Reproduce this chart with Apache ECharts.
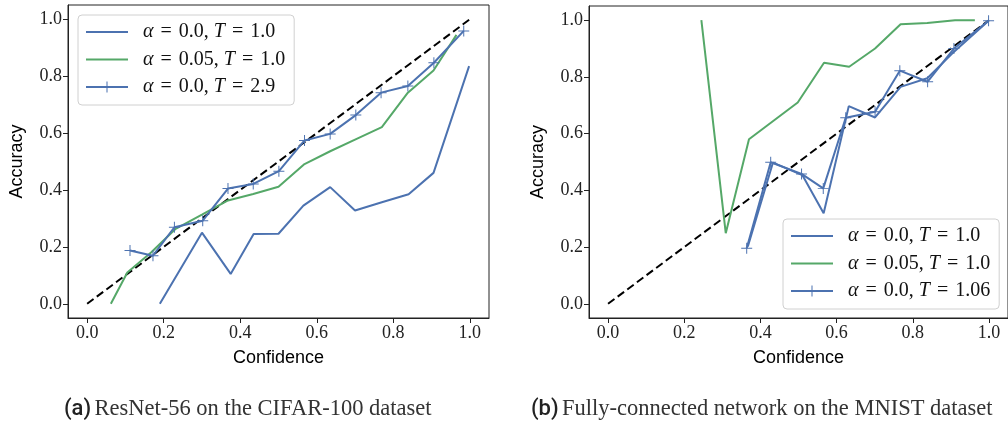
<!DOCTYPE html>
<html>
<head>
<meta charset="utf-8">
<script src="https://cdn.jsdelivr.net/npm/echarts@6/dist/echarts.min.js"></script>
<style>html,body{margin:0;padding:0;background:#fff}#c{width:1008px;height:423px}</style>
</head>
<body>
<div id="c"></div>
<script>
// ---- data ----
const tickValues = [0.0, 0.2, 0.4, 0.6, 0.8, 1.0];
const seriesNames = ['a0T1', 'a005T1', 'a0Tcal'];
const leftLegendLabels = ['{m|α}{e|=}0.0, {m|T}{e|=}1.0', '{m|α}{e|=}0.05, {m|T}{e|=}1.0', '{m|α}{e|=}0.0, {m|T}{e|=}2.9'];
const rightLegendLabels = ['{m|α}{e|=}0.0, {m|T}{e|=}1.0', '{m|α}{e|=}0.05, {m|T}{e|=}1.0', '{m|α}{e|=}0.0, {m|T}{e|=}1.06'];
const diagX = [0, 1];
const diagY = [0, 1];

const leftBlueX = [0.19, 0.30, 0.375, 0.435, 0.50, 0.565, 0.635, 0.70, 0.77, 0.84, 0.905, 0.998];
const leftBlueY = [0.0, 0.25, 0.105, 0.245, 0.246, 0.345, 0.41, 0.328, 0.357, 0.385, 0.46, 0.835];
const leftGreenX = [0.062, 0.105, 0.167, 0.23, 0.30, 0.368, 0.434, 0.50, 0.568, 0.635, 0.70, 0.77, 0.838, 0.905, 0.965];
const leftGreenY = [0.0, 0.11, 0.18, 0.262, 0.313, 0.363, 0.386, 0.411, 0.491, 0.536, 0.577, 0.621, 0.742, 0.82, 0.945];
const leftMarkX = [0.112, 0.172, 0.228, 0.302, 0.368, 0.434, 0.501, 0.568, 0.635, 0.702, 0.768, 0.838, 0.906, 0.984];
const leftMarkY = [0.187, 0.169, 0.269, 0.292, 0.405, 0.421, 0.466, 0.574, 0.597, 0.663, 0.742, 0.765, 0.847, 0.959];

const rightBlueX = [0.367, 0.433, 0.51, 0.566, 0.632, 0.701, 0.768, 0.838, 0.904, 0.999];
const rightBlueY = [0.202, 0.498, 0.454, 0.319, 0.697, 0.657, 0.765, 0.795, 0.883, 0.998];
const rightGreenX = [0.245, 0.309, 0.37, 0.498, 0.567, 0.633, 0.701, 0.768, 0.838, 0.911, 0.963];
const rightGreenY = [1.0, 0.249, 0.58, 0.71, 0.85, 0.836, 0.9, 0.986, 0.99, 1.0, 1.0];
const rightMarkX = [0.364, 0.427, 0.508, 0.565, 0.624, 0.701, 0.766, 0.839, 0.908, 0.999];
const rightMarkY = [0.196, 0.499, 0.458, 0.407, 0.656, 0.677, 0.822, 0.783, 0.9, 0.998];

const captionA = ['(a)', 'ResNet-56 on the CIFAR-100 dataset'];
const captionB = ['(b)', 'Fully-connected network on the MNIST dataset'];

// ---- styling ----
const BLUE = '#4C72B0', GREEN = '#55A868';
const SERIF = '"Liberation Serif", "DejaVu Serif", serif';
const SANS = '"Liberation Sans", Arial, sans-serif';
const PLUS = 'path://M-0.9,-10 L0.9,-10 L0.9,-0.9 L10,-0.9 L10,0.9 L0.9,0.9 L0.9,10 L-0.9,10 L-0.9,0.9 L-10,0.9 L-10,-0.9 L-0.9,-0.9 Z';

const zip = (xs, ys) => xs.map((x, i) => [x, ys[i]]);

function xAxis(gi) {
  return {
    type: 'value', gridIndex: gi, min: -0.05, max: 1.05,
    name: 'Confidence', nameLocation: 'middle', nameGap: 31,
    nameTextStyle: { fontFamily: SANS, fontSize: 18, color: '#000' },
    axisLine: { show: true, onZero: false, lineStyle: { color: '#222', width: 1 } },
    axisTick: { show: true, length: 5, customValues: tickValues, lineStyle: { color: '#222' } },
    axisLabel: { customValues: tickValues, formatter: v => v.toFixed(1), fontFamily: SERIF, fontSize: 18, color: '#222', margin: 6 },
    splitLine: { show: false }
  };
}
function yAxis(gi) {
  return {
    type: 'value', gridIndex: gi, min: -0.05, max: 1.05,
    name: 'Accuracy', nameLocation: 'middle', nameGap: 42,
    nameTextStyle: { fontFamily: SANS, fontSize: 18, color: '#000' },
    axisLine: { show: true, onZero: false, lineStyle: { color: '#222', width: 1 } },
    axisTick: { show: true, length: 5, customValues: tickValues, lineStyle: { color: '#222' } },
    axisLabel: { customValues: tickValues, formatter: v => v.toFixed(1), fontFamily: SERIF, fontSize: 18, color: '#222', margin: 6 },
    splitLine: { show: false }
  };
}
function lineSeries(gi, name, xs, ys, color, marker) {
  return {
    type: 'line', name: name, xAxisIndex: gi, yAxisIndex: gi,
    data: zip(xs, ys),
    showSymbol: !!marker, symbol: marker ? PLUS : 'none', symbolSize: 11,
    itemStyle: { color: color },
    lineStyle: { color: color, width: 2 },
    animation: false, silent: true, z: 3
  };
}
function diag(gi) {
  return {
    type: 'line', name: 'diag', xAxisIndex: gi, yAxisIndex: gi,
    data: zip(diagX, diagY), symbol: 'none',
    lineStyle: { color: '#000', width: 2, type: [8, 4] },
    animation: false, silent: true, z: 2
  };
}
function legend(left, top, labels) {
  return {
    orient: 'vertical', left: left, top: top,
    data: [
      { name: seriesNames[0], itemStyle: { opacity: 0 } },
      { name: seriesNames[1], itemStyle: { opacity: 0 } },
      { name: seriesNames[2] }
    ],
    itemWidth: 42, itemHeight: 14, itemGap: 7.5,
    padding: [7, 9, 8, 7],
    backgroundColor: 'rgba(255,255,255,0.85)', borderColor: '#d0d0d0', borderWidth: 1, borderRadius: 4,
    selectedMode: false,
    formatter: name => labels[seriesNames.indexOf(name)],
    textStyle: {
      fontFamily: SERIF, fontSize: 20, lineHeight: 20, color: '#111', padding: [0, 0, 0, 10],
      rich: {
        m: { fontFamily: SERIF, fontSize: 20, lineHeight: 20, fontStyle: 'italic', color: '#111' },
        e: { fontFamily: SERIF, fontSize: 20, lineHeight: 20, color: '#111', padding: [0, 7, 0, 7] }
      }
    }
  };
}

const chart = echarts.init(document.getElementById('c'), null, { renderer: 'canvas' });
chart.setOption({
  backgroundColor: '#fff',
  animation: false,
  grid: [
    { left: 68, top: 5, width: 421, height: 313, show: true, borderColor: '#222', borderWidth: 1, backgroundColor: 'transparent' },
    { left: 589, top: 6, width: 420, height: 312, show: true, borderColor: '#222', borderWidth: 1, backgroundColor: 'transparent' }
  ],
  xAxis: [xAxis(0), xAxis(1)],
  yAxis: [yAxis(0), yAxis(1)],
  legend: [legend(78, 15, leftLegendLabels), legend(783, 219, rightLegendLabels)],
  series: [
    diag(0),
    lineSeries(0, seriesNames[0], leftBlueX, leftBlueY, BLUE, false),
    lineSeries(0, seriesNames[1], leftGreenX, leftGreenY, GREEN, false),
    lineSeries(0, seriesNames[2], leftMarkX, leftMarkY, BLUE, true),
    diag(1),
    lineSeries(1, seriesNames[0], rightBlueX, rightBlueY, BLUE, false),
    lineSeries(1, seriesNames[1], rightGreenX, rightGreenY, GREEN, false),
    lineSeries(1, seriesNames[2], rightMarkX, rightMarkY, BLUE, true)
  ],
  graphic: [
    { type: 'text', left: 64, top: 398, style: {
      text: '{a|' + captionA[0] + '} {b|' + captionA[1] + '}',
      rich: { a: { fontFamily: 'Roboto, ' + SANS, fontSize: 22, fontWeight: 500, fill: '#222' }, b: { fontFamily: SERIF, fontSize: 22.5, fill: '#333' } } } },
    { type: 'text', left: 531, top: 398, style: {
      text: '{a|' + captionB[0] + '} {b|' + captionB[1] + '}',
      rich: { a: { fontFamily: 'Roboto, ' + SANS, fontSize: 22, fontWeight: 500, fill: '#222' }, b: { fontFamily: SERIF, fontSize: 22.5, fill: '#333' } } } }
  ]
});
</script>
</body>
</html>
